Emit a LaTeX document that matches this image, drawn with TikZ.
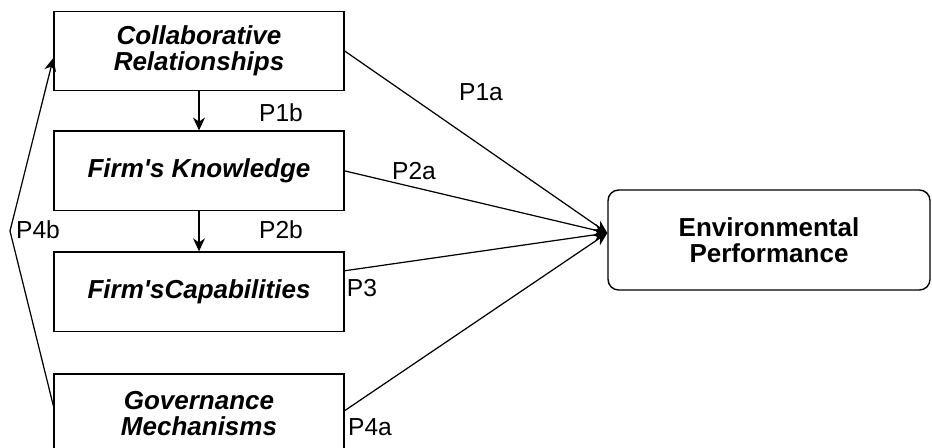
\documentclass[tikz,border=0pt]{standalone}
\usepackage{fontspec}
\setmainfont{Liberation Sans}
\usetikzlibrary{arrows.meta, positioning, calc}
\tikzset{
  basebox/.style={rectangle, draw=black, line width=0.8pt, align=center,
                  inner sep=0pt, font=\fontsize{14.8}{14.6}\selectfont\bfseries\itshape,
                  minimum width=5.8cm, minimum height=1.59cm},
  outcomenode/.style={basebox, rounded corners=6pt,
                      font=\fontsize{14.8}{14.6}\selectfont\bfseries,
                      minimum width=6.44cm, minimum height=2cm},
  arrow/.style={-{Stealth[length=0.26cm, width=0.24cm]}, line width=0.7pt},
  plabel/.style={font=\fontsize{14}{16}\selectfont, inner sep=0pt}
}
\begin{document}
\begin{tikzpicture}[x=0.02cm, y=-0.02cm]
  \useasboundingbox (0,0) rectangle (932,447);

  % ── Antecedents ──
  \node[basebox] (collab) at (199,51) {Collaborative\\Relationships};
  \node[basebox, below=0.78cm of collab] (know) {Firm\textquotesingle s Knowledge};
  \node[basebox, below=0.8cm of know] (capab) {Firm\textquotesingle sCapabilities};
  \node[basebox, below=0.82cm of capab] (gov) {Governance\\Mechanisms};

  % ── Outcome ──
  \node[outcomenode] (envperf) at (769,240) {Environmental\\Performance};
  \coordinate (hub) at ([yshift=0.14cm]envperf.west);
  \coordinate (bend) at (10,231);

  % ── Labels ──
  \node[plabel] (p1a) at (481,92) {P1a};
  \node[plabel] (p1b) at (281,113) {P1b};
  \node[plabel] (p2a) at (414,171) {P2a};
  \node[plabel] (p2b) at (281,230) {P2b};
  \node[plabel] (p3) at (362,288) {P3};
  \node[plabel] (p4a) at (370,427) {P4a};
  \node[plabel] (p4b) at (38,230) {P4b};

  % ── ARROWS ──
  \draw[arrow] (collab.south) -- (know.north);
  \draw[arrow] (know.south) -- (capab.north);
  \draw[arrow] (collab.east) -- (hub);
  \draw[arrow] (know.east) -- (hub);
  \draw[arrow] ([yshift=0.42cm]capab.east) -- (hub);
  \draw[arrow] ([yshift=0.06cm]gov.east) -- (hub);
  \draw[arrow] ([yshift=0.16cm]gov.west) -- (bend) -- ([yshift=-0.14cm]collab.west);

\end{tikzpicture}
\end{document}
